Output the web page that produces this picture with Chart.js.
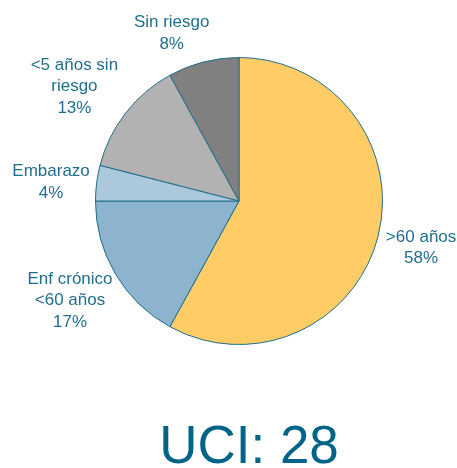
<!DOCTYPE html>
<html>
<head>
<meta charset="utf-8">
<script src="https://cdn.jsdelivr.net/npm/chart.js@4"></script>
<style>
html,body{margin:0;padding:0;background:#fff;}
#wrap{width:457px;height:468px;position:relative;}
</style>
</head>
<body>
<div id="wrap"><canvas id="c" width="457" height="468"></canvas></div>
<script>
const categories = [">60 años", "Enf crónico <60 años", "Embarazo", "<5 años sin riesgo", "Sin riesgo"];
const labelLines = [[">60 años"], ["Enf crónico", "<60 años"], ["Embarazo"], ["<5 años sin", "riesgo"], ["Sin riesgo"]];
const values = [58, 17, 4, 13, 8];
const colors = ["#FFCC66", "#8DB4CF", "#ABC8DC", "#B2B2B2", "#808080"];
const titleText = "UCI: 28";

// label placement tweaks (style, not data)
const labelDist = [1.31, 1.36, 1.32, 1.39, 1.27];
const labelNudge = [[0, 0], [-1, 0], [0, 5], [-7, 8], [-22, 9]];

const labelPlugin = {
  id: 'outLabels',
  afterDatasetsDraw(chart) {
    const ctx = chart.ctx;
    const meta = chart.getDatasetMeta(0);
    ctx.save();
    ctx.fillStyle = '#1F6E8C';
    ctx.font = '17px "Liberation Sans", Arial, sans-serif';
    ctx.textAlign = 'center';
    ctx.textBaseline = 'middle';
    const lh = 21.5;
    meta.data.forEach((arc, i) => {
      const p = arc.getProps(['x','y','startAngle','endAngle','outerRadius'], true);
      const mid = (p.startAngle + p.endAngle) / 2;
      const d = p.outerRadius * labelDist[i];
      const cx = p.x + Math.cos(mid) * d + labelNudge[i][0];
      const cy = p.y + Math.sin(mid) * d + labelNudge[i][1];
      const lines = labelLines[i].concat([values[i] + '%']);
      const y0 = cy - (lines.length - 1) * lh / 2;
      lines.forEach((t, k) => ctx.fillText(t, cx, y0 + k * lh));
    });
    ctx.restore();
  }
};

const titlePlugin = {
  id: 'bigTitle',
  afterDraw(chart) {
    const ctx = chart.ctx;
    ctx.save();
    ctx.fillStyle = '#006488';
    ctx.font = '53px "Liberation Sans", Arial, sans-serif';
    ctx.textAlign = 'center';
    ctx.textBaseline = 'alphabetic';
    ctx.fillText(titleText, 249, 463);
    ctx.restore();
  }
};

new Chart(document.getElementById('c'), {
  type: 'pie',
  data: {
    labels: categories,
    datasets: [{
      data: values,
      backgroundColor: colors,
      borderColor: '#1F6E8C',
      borderWidth: 1
    }]
  },
  options: {
    responsive: false,
    animation: false,
    layout: { padding: { top: 57, bottom: 123, left: 95, right: 74 } },
    plugins: {
      legend: { display: false },
      tooltip: { enabled: false },
      title: { display: false }
    }
  },
  plugins: [labelPlugin, titlePlugin]
});
</script>
</body>
</html>
